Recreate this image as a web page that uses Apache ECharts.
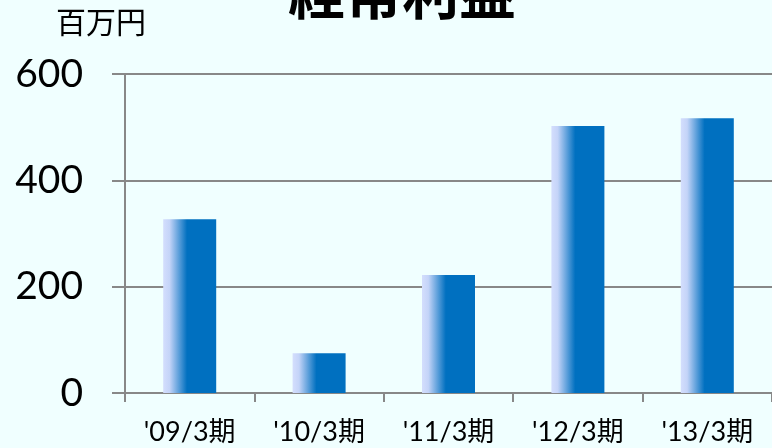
<!DOCTYPE html>
<html>
<head>
<meta charset="utf-8">
<script src="https://cdn.jsdelivr.net/npm/echarts@6/dist/echarts.min.js"></script>
<style>
  html, body { margin: 0; padding: 0; background: #f0ffff; }
  #chart { width: 772px; height: 448px; }
</style>
</head>
<body>
<div id="chart"></div>
<script>
const categories = ["'09/3期", "'10/3期", "'11/3期", "'12/3期", "'13/3期"];
const profit = [327, 75, 222, 502, 517];
const yTicks = [0, 200, 400, 600];

const chart = echarts.init(document.getElementById('chart'));

// 棒の横方向グラデーション
const barColor = new echarts.graphic.LinearGradient(0, 0, 1, 0, [
  { offset: 0, color: '#d4defd' },
  { offset: 0.12, color: '#c4d4f8' },
  { offset: 0.45, color: '#0070c0' },
  { offset: 1, color: '#0070c0' }
]);

const option = {
  backgroundColor: '#f0ffff',
  animation: false,
  title: {
    text: '経常利益',
    left: 283,
    top: -41,
    textStyle: {
      fontSize: 57,
      fontWeight: 'bold',
      color: '#000',
      fontFamily: '"Noto Sans CJK JP"'
    }
  },
  graphic: [{
    type: 'text',
    left: 56,
    top: 7,
    style: {
      text: '百万円',
      fontSize: 30,
      fill: '#000',
      fontFamily: '"Noto Sans CJK JP"'
    }
  }],
  grid: {
    left: 125,
    top: 74,
    width: 652,
    height: 319
  },
  xAxis: {
    type: 'category',
    data: categories,
    axisLine: { lineStyle: { color: '#888', width: 2 } },
    axisTick: { show: true, length: 9, lineStyle: { color: '#888', width: 2 } },
    axisLabel: {
      color: '#000',
      fontSize: 27,
      margin: 26,
      fontFamily: 'Lato, "Noto Sans CJK JP"'
    }
  },
  yAxis: {
    type: 'value',
    min: yTicks[0],
    max: yTicks[yTicks.length - 1],
    interval: 200,
    axisLine: { show: true, lineStyle: { color: '#888', width: 2 } },
    axisTick: { show: true, length: 13, lineStyle: { color: '#888', width: 2 } },
    splitLine: { lineStyle: { color: '#888', width: 2 } },
    axisLabel: {
      color: '#000',
      fontSize: 39,
      margin: 42,
      fontFamily: 'Lato, "Noto Sans CJK JP"'
    }
  },
  series: [{
    type: 'bar',
    data: profit,
    barWidth: 53,
    itemStyle: { color: barColor }
  }]
};

chart.setOption(option);
</script>
</body>
</html>
